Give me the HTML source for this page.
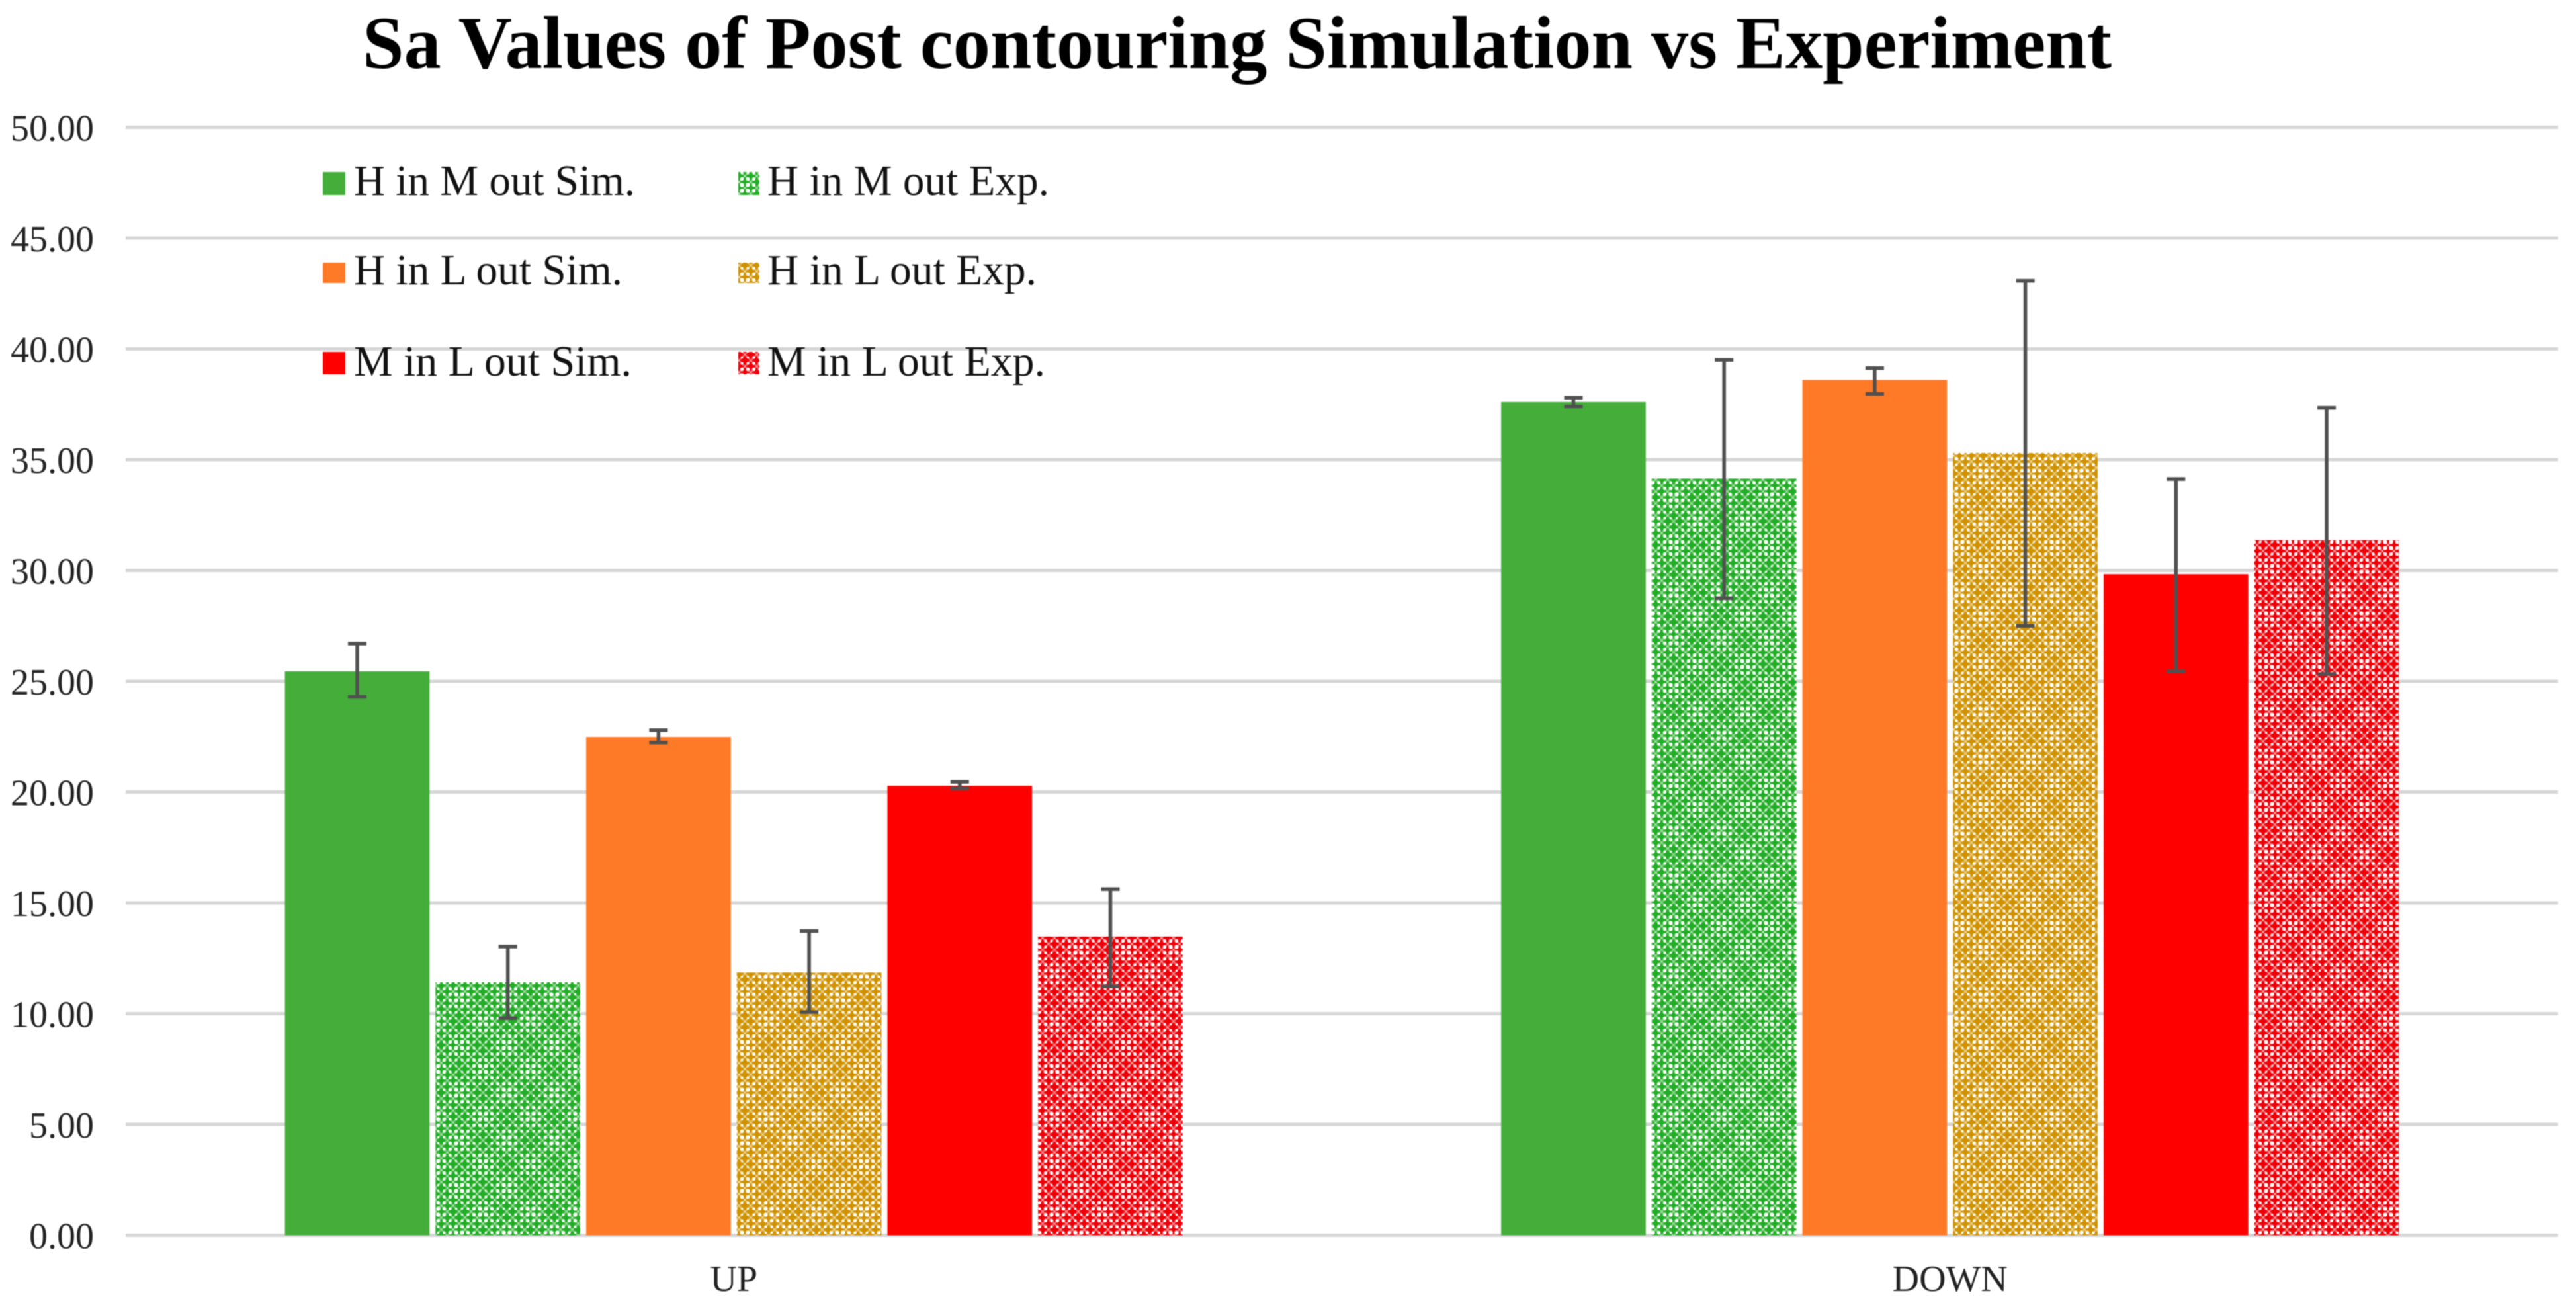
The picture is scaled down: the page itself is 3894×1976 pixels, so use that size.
<!DOCTYPE html>
<html lang="en">
<head>
<meta charset="utf-8">
<title>Sa Values of Post contouring Simulation vs Experiment</title>
<style>
html,body{margin:0;padding:0;background:#fff;}
svg{display:block;font-family:"Liberation Serif","Noto Serif CJK SC",serif;filter:blur(0.7px);}
</style>
</head>
<body>
<svg id="chart" xmlns="http://www.w3.org/2000/svg" width="3894" height="1976" viewBox="0 0 3894 1976">
<rect width="3894" height="1976" fill="#ffffff"/>
<defs id="defs"></defs>
<text x="548" y="103" font-size="113" font-weight="bold" fill="#000" textLength="2644" lengthAdjust="spacingAndGlyphs">Sa Values of Post contouring Simulation vs Experiment</text>
<g id="grid"></g>
<g id="yaxis"></g>
<g id="xaxis"></g>
<g id="bars"></g>
<g id="errors"></g>
<g id="legend">
  <g>
    <rect x="488" y="260" width="34" height="35" fill="#45ae3b"/>
    <text x="535" y="295" font-size="66" fill="#111" textLength="425" lengthAdjust="spacingAndGlyphs">H in M out Sim.</text>
  </g>
  <g>
    <rect x="1116" y="260" width="32" height="35" fill="url(#hatch-green)"/>
    <text x="1160" y="295" font-size="66" fill="#111" textLength="426" lengthAdjust="spacingAndGlyphs">H in M out Exp.</text>
  </g>
  <g>
    <rect x="488" y="397" width="34" height="31" fill="#fe7a26"/>
    <text x="535" y="430" font-size="66" fill="#111" textLength="406" lengthAdjust="spacingAndGlyphs">H in L out Sim.</text>
  </g>
  <g>
    <rect x="1116" y="397" width="32" height="31" fill="url(#hatch-gold)"/>
    <text x="1160" y="430" font-size="66" fill="#111" textLength="407" lengthAdjust="spacingAndGlyphs">H in L out Exp.</text>
  </g>
  <g>
    <rect x="488" y="532" width="34" height="34" fill="#ff0000"/>
    <text x="535" y="568" font-size="66" fill="#111" textLength="420" lengthAdjust="spacingAndGlyphs">M in L out Sim.</text>
  </g>
  <g>
    <rect x="1116" y="532" width="32" height="34" fill="url(#hatch-red)"/>
    <text x="1160" y="568" font-size="66" fill="#111" textLength="420" lengthAdjust="spacingAndGlyphs">M in L out Exp.</text>
  </g>
</g>
</svg>
<script>
// Chart data
const categories = ['UP', 'DOWN'];
const yTicks = [0, 5, 10, 15, 20, 25, 30, 35, 40, 45, 50];
const seriesNames = ['h-in-m-out-sim', 'h-in-m-out-exp', 'h-in-l-out-sim', 'h-in-l-out-exp', 'm-in-l-out-sim', 'm-in-l-out-exp'];
const hmSim = [25.45, 37.6];
const hmExp = [11.42, 34.15];
const hlSim = [22.49, 38.6];
const hlExp = [11.86, 35.3];
const mlSim = [20.28, 29.83];
const mlExp = [13.48, 31.37];
const hmSimHigh = [26.7, 37.8];
const hmSimLow = [24.3, 37.4];
const hmExpHigh = [13.03, 39.5];
const hmExpLow = [9.8, 28.75];
const hlSimHigh = [22.8, 39.13];
const hlSimLow = [22.23, 37.97];
const hlExpHigh = [13.73, 43.07];
const hlExpLow = [10.07, 27.5];
const mlSimHigh = [20.46, 34.13];
const mlSimLow = [20.16, 25.45];
const mlExpHigh = [15.62, 37.34];
const mlExpLow = [11.24, 25.33];

const seriesValues = [hmSim, hmExp, hlSim, hlExp, mlSim, mlExp];
const seriesHigh = [hmSimHigh, hmExpHigh, hlSimHigh, hlExpHigh, mlSimHigh, mlExpHigh];
const seriesLow = [hmSimLow, hmExpLow, hlSimLow, hlExpLow, mlSimLow, mlExpLow];
const seriesFill = ['#45ae3b', 'url(#hatch-green)', '#fe7a26', 'url(#hatch-gold)', '#ff0000', 'url(#hatch-red)'];

// Axis functions
const plot = {left: 190, right: 3867, zero: 1867.5, top: 192.5, max: 50};
const barStep = 227.7;
const barWidth = 218.7;
function yScale(v) { return plot.zero - (v / plot.max) * (plot.zero - plot.top); }
function xCenter(c) { return plot.left + (c + 0.5) * (plot.right - plot.left) / categories.length; }
function xBar(c, s) { return xCenter(c) - (seriesValues.length * barStep - (barStep - barWidth)) / 2 + s * barStep; }

const NS = 'http://www.w3.org/2000/svg';
function make(tag, attrs, parent) {
  const el = document.createElementNS(NS, tag);
  for (const k in attrs) el.setAttribute(k, attrs[k]);
  parent.appendChild(el);
  return el;
}

// Hatch patterns: dot lattice whose dot size swells and shrinks to mimic the moire rings
const defs = document.getElementById('defs');
function buildHatch(id, color) {
  const T = 72;
  const p = make('pattern', {id: id, width: T, height: T, patternUnits: 'userSpaceOnUse', patternTransform: 'translate(10,-4)'}, defs);
  make('rect', {width: T, height: T, fill: color}, p);
  const trellis = T / 4;
  for (let k = -8; k <= 8; k++) {
    make('line', {x1: k * trellis, y1: 0, x2: k * trellis + T, y2: T, stroke: '#ffffff', 'stroke-opacity': 0.42, 'stroke-width': 2.2}, p);
    make('line', {x1: k * trellis, y1: T, x2: k * trellis + T, y2: 0, stroke: '#ffffff', 'stroke-opacity': 0.42, 'stroke-width': 2.2}, p);
  }
  for (let i = 0; i < 8; i++) {
    for (let j = 0; j < 8; j++) {
      const cx = i * 9 + 4.5;
      const cy = j * 9 + 4.5;
      const ring = (1 - Math.cos(2 * Math.PI * cx / T) * Math.cos(2 * Math.PI * cy / T)) / 2;
      make('circle', {cx: cx, cy: cy, r: 1.6 + 1.7 * ring, fill: '#ffffff'}, p);
    }
  }
}
buildHatch('hatch-green', '#22ad26');
buildHatch('hatch-gold', '#d09200');
buildHatch('hatch-red', '#ee0008');

// Gridlines and y tick labels
const grid = document.getElementById('grid');
const yaxis = document.getElementById('yaxis');
yTicks.forEach(function (t) {
  const line = make('line', {x1: plot.left, x2: plot.right, y1: yScale(t), y2: yScale(t), stroke: '#d6d6d6', 'stroke-width': 5}, grid);
  
  
  const label = make('text', {x: 142, y: yScale(t) + 20, 'text-anchor': 'end', 'font-size': 56, fill: '#222'}, yaxis);
  label.textContent = t.toFixed(2);
  
  
});

// Category labels
const xaxis = document.getElementById('xaxis');
categories.forEach(function (name, c) {
  const label = make('text', {x: xCenter(c), y: 1952, 'text-anchor': 'middle', 'font-size': 56, fill: '#222'}, xaxis);
  label.textContent = name;
  
  
});

// Bars and error bars
const barsGroup = document.getElementById('bars');
const errorsGroup = document.getElementById('errors');
seriesValues.forEach(function (values, s) {
  values.forEach(function (v, c) {
    const x = xBar(c, s);
    const bar = make('rect', {x: x, y: yScale(v), width: barWidth, height: plot.zero - yScale(v), fill: seriesFill[s]}, barsGroup);
    
    
    const mid = x + barWidth / 2;
    const hi = yScale(seriesHigh[s][c]);
    const lo = yScale(seriesLow[s][c]);
    const err = make('path', {d: 'M' + (mid - 14) + ' ' + hi + 'H' + (mid + 14) + 'M' + mid + ' ' + hi + 'V' + lo + 'M' + (mid - 14) + ' ' + lo + 'H' + (mid + 14), stroke: '#505050', 'stroke-width': 5.5, fill: 'none'}, errorsGroup);
    
    
  });
});
</script>
</body>
</html>
